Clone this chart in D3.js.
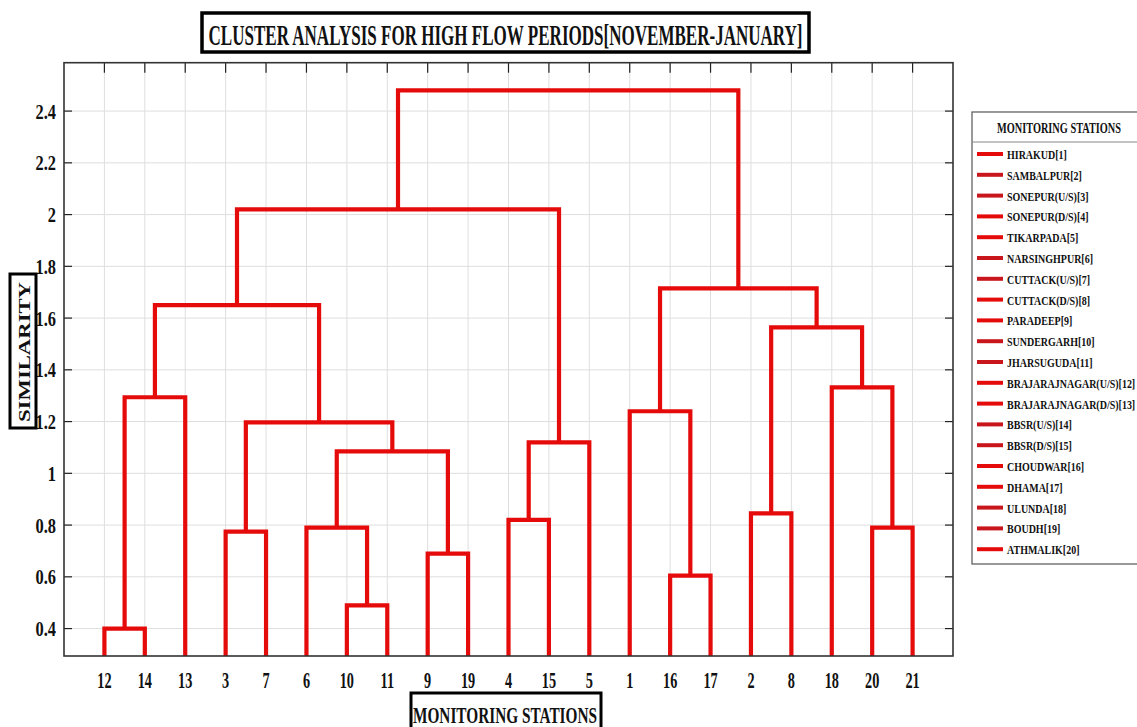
<!DOCTYPE html>
<html>
<head>
<meta charset="utf-8">
<script src="https://cdn.jsdelivr.net/npm/d3@7"></script>
<style>
body{margin:0;background:#fff;}
svg text{font-family:"Liberation Serif","Times New Roman",serif;font-weight:bold;fill:#111;}
</style>
</head>
<body>
<div id="graph"></div>
<script>
// station names (legend) and leaf order of the dendrogram
var stations = ["HIRAKUD[1]","SAMBALPUR[2]","SONEPUR(U/S)[3]","SONEPUR(D/S)[4]","TIKARPADA[5]","NARSINGHPUR[6]",
  "CUTTACK(U/S)[7]","CUTTACK(D/S)[8]","PARADEEP[9]","SUNDERGARH[10]","JHARSUGUDA[11]","BRAJARAJNAGAR(U/S)[12]",
  "BRAJARAJNAGAR(D/S)[13]","BBSR(U/S)[14]","BBSR(D/S)[15]","CHOUDWAR[16]","DHAMA[17]","ULUNDA[18]","BOUDH[19]","ATHMALIK[20]"];
var leafOrder = [12,14,13,3,7,6,10,11,9,19,4,15,5,1,16,17,2,8,18,20,21];
var yTicks = [0.4,0.6,0.8,1,1.2,1.4,1.6,1.8,2,2.2,2.4];

// merges, matlab style: leaves 1..21, new clusters numbered 22,23,...
var mergeA = [12,10,16, 9,3, 6,20, 4,2,27,29,26, 1,22,18,30,35,34,38,40];
var mergeB = [14,11,17,19,7,23,21,15,8,25, 5,31,24,13,28,36,33,37,32,39];
var mergeH = [0.40,0.49,0.605,0.69,0.775,0.79,0.79,0.82,0.845,1.085,1.12,1.197,1.24,1.294,1.332,1.564,1.65,1.715,2.02,2.48];

var W = 1137, H = 727;
var svg = d3.select("#graph").append("svg").attr("width",W).attr("height",H);

var x = d3.scaleLinear().domain([0,22]).range([64,953]);
var y = d3.scaleLinear().domain([0.294,2.587]).range([656,62.7]);

// squeeze text horizontally (the original font is narrow)
function squeeze(sel,k){
  sel.each(function(){
    var w = this.getComputedTextLength();
    d3.select(this).attr("textLength",w*k).attr("lengthAdjust","spacingAndGlyphs");
  });
}

// grid
var grid = svg.append("g");
grid.selectAll(".gy").data(yTicks).enter().append("line")
  .attr("x1",x(0)).attr("x2",x(22)).attr("y1",function(d){return y(d);}).attr("y2",function(d){return y(d);})
  .attr("stroke","#dedede").attr("stroke-width",1);
grid.selectAll(".gx").data(leafOrder).enter().append("line")
  .attr("x1",function(d,i){return x(i+1);}).attr("x2",function(d,i){return x(i+1);})
  .attr("y1",y.range()[0]).attr("y2",y.range()[1])
  .attr("stroke","#dedede").attr("stroke-width",1);

// inward ticks
var tk = svg.append("g").attr("stroke","#222").attr("stroke-width",1.2);
yTicks.forEach(function(v){
  tk.append("line").attr("x1",x(0)).attr("x2",x(0)+8).attr("y1",y(v)).attr("y2",y(v));
  tk.append("line").attr("x1",x(22)).attr("x2",x(22)-8).attr("y1",y(v)).attr("y2",y(v));
});
leafOrder.forEach(function(d,i){
  tk.append("line").attr("x1",x(i+1)).attr("x2",x(i+1)).attr("y1",y.range()[1]).attr("y2",y.range()[1]+10);
});

// dendrogram nodes
var nodeX = {}, nodeH = {};
leafOrder.forEach(function(leaf,i){ nodeX[leaf] = x(i+1); nodeH[leaf] = y.domain()[0]; });
var links = [];
mergeA.forEach(function(a,i){
  var b = mergeB[i], id = 22+i, h = mergeH[i];
  links.push("M"+nodeX[a]+","+y(nodeH[a])+"V"+y(h)+"H"+nodeX[b]+"V"+y(nodeH[b]));
  nodeX[id] = (nodeX[a]+nodeX[b])/2;
  nodeH[id] = h;
});
svg.append("g").selectAll("path").data(links).enter().append("path")
  .attr("d",function(d){return d;})
  .attr("fill","none").attr("stroke","#e50b0b").attr("stroke-width",4.2)
  .attr("stroke-linejoin","miter");

// axes box
svg.append("rect").attr("x",x(0)).attr("y",y.range()[1]).attr("width",x(22)-x(0)).attr("height",y.range()[0]-y.range()[1])
  .attr("fill","none").attr("stroke","#333").attr("stroke-width",1.6);

// tick labels
var yl = svg.append("g").selectAll("text").data(yTicks).enter().append("text")
  .attr("x",56).attr("y",function(d){return y(d)+7.5;}).attr("text-anchor","end")
  .style("font-size","21px").text(function(d){return String(d);});
squeeze(yl,0.78);
var xl = svg.append("g").selectAll("text").data(leafOrder).enter().append("text")
  .attr("x",function(d,i){return x(i+1);}).attr("y",688).attr("text-anchor","middle")
  .style("font-size","23px").text(function(d){return d;});
squeeze(xl,0.62);

// title
svg.append("rect").attr("x",202).attr("y",13).attr("width",607).attr("height",39)
  .attr("fill","#fff").attr("stroke","#000").attr("stroke-width",3.5);
svg.append("text").attr("x",505.5).attr("y",45).attr("text-anchor","middle")
  .style("font-size","30px").attr("textLength",594).attr("lengthAdjust","spacingAndGlyphs")
  .text("CLUSTER ANALYSIS FOR HIGH FLOW PERIODS[NOVEMBER-JANUARY]");

// y label
svg.append("rect").attr("x",10).attr("y",274).attr("width",26).attr("height",154)
  .attr("fill","#fff").attr("stroke","#000").attr("stroke-width",3);
svg.append("text").attr("transform","translate(30,352) rotate(-90)").attr("text-anchor","middle")
  .style("font-size","17px").attr("textLength",140).attr("lengthAdjust","spacingAndGlyphs").text("SIMILARITY");

// x label
svg.append("rect").attr("x",411).attr("y",693).attr("width",190).attr("height",40)
  .attr("fill","#fff").attr("stroke","#000").attr("stroke-width",3);
svg.append("text").attr("x",505).attr("y",723).attr("text-anchor","middle")
  .style("font-size","24px").attr("textLength",184).attr("lengthAdjust","spacingAndGlyphs").text("MONITORING STATIONS");

// legend
var lg = svg.append("g");
lg.append("rect").attr("x",972).attr("y",112).attr("width",175).attr("height",452)
  .attr("fill","#fff").attr("stroke","#555").attr("stroke-width",1.2);
lg.append("line").attr("x1",972).attr("x2",1137).attr("y1",142).attr("y2",142).attr("stroke","#888").attr("stroke-width",1);
lg.append("text").attr("x",1059).attr("y",133).attr("text-anchor","middle")
  .style("font-size","14px").attr("textLength",124).attr("lengthAdjust","spacingAndGlyphs").text("MONITORING STATIONS");
var items = lg.selectAll(".it").data(stations).enter().append("g")
  .attr("transform",function(d,i){return "translate(0,"+(154+i*20.8)+")";});
items.append("line").attr("x1",977).attr("x2",1003).attr("y1",0).attr("y2",0)
  .attr("stroke",function(d,i){return (i%4==1||i%4==2)?"#c9161c":"#e50b0b";}).attr("stroke-width",4);
var it = items.append("text").attr("x",1007).attr("y",5).style("font-size","13.5px").text(function(d){return d;});
squeeze(it,0.74);
</script>
</body>
</html>
